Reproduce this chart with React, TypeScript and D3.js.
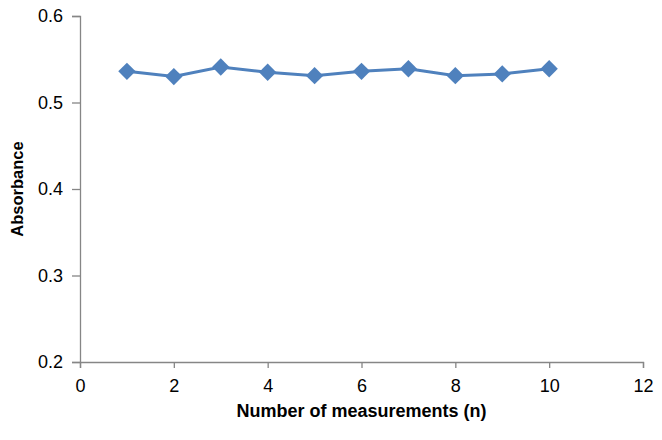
import React, { useEffect, useRef } from 'react';
import * as d3 from 'd3';

const measurements = [1, 2, 3, 4, 5, 6, 7, 8, 9, 10];
const absorbance = [0.536, 0.530, 0.541, 0.535, 0.531, 0.536, 0.539, 0.531, 0.533, 0.539];
const xTicks = [0, 2, 4, 6, 8, 10, 12];
const yTicks = [0.2, 0.3, 0.4, 0.5, 0.6];

const width = 662;
const height = 440;
const margin = { top: 16, right: 19, bottom: 78, left: 80 };
const blue = '#4F81BD';
const grey = '#868686';
const font = 'Liberation Sans, Arial, sans-serif';

export default function App() {
  const ref = useRef<SVGSVGElement>(null);

  useEffect(() => {
    const svg = d3.select(ref.current);
    svg.selectAll('*').remove();

    const x = d3.scaleLinear().domain([0, 12]).range([margin.left, width - margin.right]);
    const y = d3.scaleLinear().domain([0.2, 0.6]).range([height - margin.bottom, margin.top]);

    const xAxis = svg.append('g')
      .attr('transform', `translate(0,${height - margin.bottom})`)
      .call(d3.axisBottom(x).tickValues(xTicks).tickSize(6).tickPadding(11).tickFormat(d3.format('d')));
    const yAxis = svg.append('g')
      .attr('transform', `translate(${margin.left},0)`)
      .call(d3.axisLeft(y).tickValues(yTicks).tickSize(8).tickPadding(9).tickFormat(d3.format('.1f')));

    [xAxis, yAxis].forEach(g => {
      g.select('.domain').attr('stroke', grey).attr('stroke-width', 1.3);
      g.selectAll('.tick line').attr('stroke', grey).attr('stroke-width', 1.3);
      g.selectAll('.tick text')
        .attr('fill', '#000')
        .style('font-family', font)
        .style('font-size', '18px');
    });

    const pts = measurements.map((m, i) => [m, absorbance[i]] as [number, number]);

    svg.append('path')
      .datum(pts)
      .attr('fill', 'none')
      .attr('stroke', blue)
      .attr('stroke-width', 3)
      .attr('d', d3.line<[number, number]>().x(d => x(d[0])).y(d => y(d[1])));

    svg.append('g')
      .selectAll('path')
      .data(pts)
      .enter()
      .append('path')
      .attr('transform', d => `translate(${x(d[0])},${y(d[1])}) rotate(45)`)
      .attr('d', d3.symbol().type(d3.symbolSquare).size(150)())
      .attr('fill', blue);

    svg.append('text')
      .attr('x', (margin.left + width - margin.right) / 2)
      .attr('y', 417)
      .attr('text-anchor', 'middle')
      .style('font-family', font)
      .style('font-size', '18px')
      .style('font-weight', 'bold')
      .text('Number of measurements (n)');

    svg.append('text')
      .attr('transform', `translate(23,${(margin.top + height - margin.bottom) / 2}) rotate(-90)`)
      .attr('text-anchor', 'middle')
      .style('font-family', font)
      .style('font-size', '16.5px')
      .style('font-weight', 'bold')
      .text('Absorbance');
  }, []);

  return (
    <svg ref={ref} width={width} height={height}
      style={{ position: 'absolute', left: 0, top: 0, background: '#fff' }} />
  );
}
